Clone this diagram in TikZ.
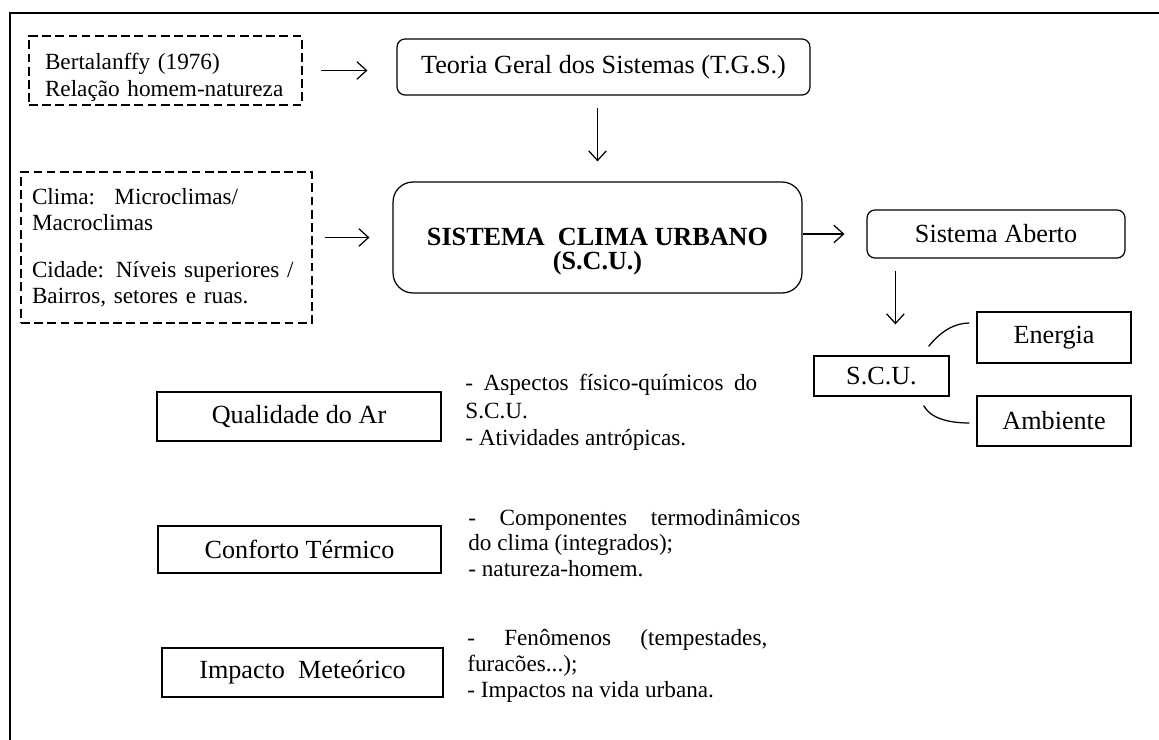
\documentclass[tikz,border=0pt]{standalone}
\usepackage{fontspec}
\setmainfont{Liberation Serif}
\usetikzlibrary{arrows.meta}
\usetikzlibrary{calc}

\tikzset{
  caixa/.style={draw, line width=.7pt, inner sep=0pt, align=center, font=\fontsize{14.9}{17}\selectfont},
  caixaredonda/.style={caixa, rounded corners=.16cm},
  tracejada/.style={draw, line width=.7pt, dash pattern=on 5pt off 2.5pt, inner ysep=0pt, align=left, font=\fontsize{13.2}{14.7}\selectfont},
  texto/.style={inner sep=0pt, anchor=west, align=justify, font=\fontsize{13.2}{14.7}\selectfont},
  seta/.style={line width=.7pt, -{Straight Barb[length=5.5pt,width=10pt]}}
}

\begin{document}
\begin{tikzpicture}[x=0.02cm,y=-0.02cm]
\useasboundingbox (0,0) rectangle (1159,740);
\draw[line width=1.7pt] (10,740) -- (10,13) -- (1159,13);
\node[tracejada, inner xsep=.32cm, text width=4.82cm, minimum height=1.38cm, font=\fontsize{13.2}{15}\selectfont] (bertalanffy) at (165.5,70.5) {\rule{0pt}{17pt}Bertalanffy (1976)\\Relação homem-natureza};
\node[tracejada, inner xsep=.22cm, text width=5.38cm, minimum height=3.02cm] (clima) at (166.5,247.5) {Clima: \ Microclimas/\\Macroclimas\\[12pt]Cidade: Níveis superiores /\\Bairros, setores e ruas.};
\node[caixaredonda, minimum width=8.26cm, minimum height=1.12cm] (tgs) at (603.5,67) {Teoria Geral dos Sistemas (T.G.S.)};
\node[caixa, rounded corners=.4cm, minimum width=8.18cm, minimum height=2.22cm, font=\fontsize{14.9}{14}\selectfont\bfseries] (scu) at (597.5,237.5) {\rule{0pt}{26pt}SISTEMA \ CLIMA URBANO\\(S.C.U.)};
\node[caixaredonda, minimum width=5.16cm, minimum height=.96cm] (aberto) at (996,234) {Sistema Aberto};
\node[caixa, minimum width=2.7cm, minimum height=.8cm] (scu2) at (881.5,376) {S.C.U.};
\node[caixa, minimum width=3.08cm, minimum height=1.02cm] (energia) at (1054,337.5) {Energia};
\node[caixa, minimum width=3.08cm, minimum height=1cm] (ambiente) at (1054,421) {Ambiente};
\node[caixa, minimum width=5.68cm, minimum height=.98cm] (qualidade) at (299,416.5) {Qualidade do Ar};
\node[caixa, minimum width=5.66cm, minimum height=.94cm] (conforto) at (299.5,549.5) {Conforto Térmico};
\node[caixa, minimum width=5.62cm, minimum height=.98cm] (impacto) at (302.5,672.5) {Impacto \ Meteórico};
\node[texto, text width=5.84cm, font=\fontsize{13.2}{15.5}\selectfont] (txtar) at (465,412.5) {- Aspectos físico-químicos do\linebreak S.C.U.\\- Atividades antrópicas.};
\node[texto, text width=6.64cm] (txtconforto) at (468,543) {- Componentes termodinâmicos\linebreak do clima (integrados);\\- natureza-homem.};
\node[texto, text width=6cm] (txtimpacto) at (467,666) {- Fenômenos (tempestades,\linebreak furacões...);\\- Impactos na vida urbana.};
\coordinate (desce) at ($(aberto.south west)+(29,0)$);
\draw[seta, shorten <=.36cm, shorten >=.58cm] (bertalanffy.east) -- (bertalanffy.east -| tgs.west);
\draw[seta, shorten <=.24cm, shorten >=.4cm] (tgs.south -| scu.north) -- (scu.north);
\draw[seta, shorten <=.24cm, shorten >=.46cm] (clima.east |- scu.west) -- (scu.west);
\draw[seta, shorten >=.44cm] (scu.east |- aberto.west) -- (aberto.west);
\draw[seta, shorten <=.24cm, shorten >=.62cm] (desce) -- (desce |- scu2.north);
\draw[line width=.7pt] ($(scu2.north east)+(-21,-9)$) .. controls +(12,-15) and +(-15,0) .. ($(energia.west)+(-7,-14.5)$);
\draw[line width=.7pt] ($(scu2.south east)+(-26,9)$) .. controls +(7,13) and +(-20,0) .. ($(ambiente.west)+(-7,2)$);
\end{tikzpicture}
\end{document}
